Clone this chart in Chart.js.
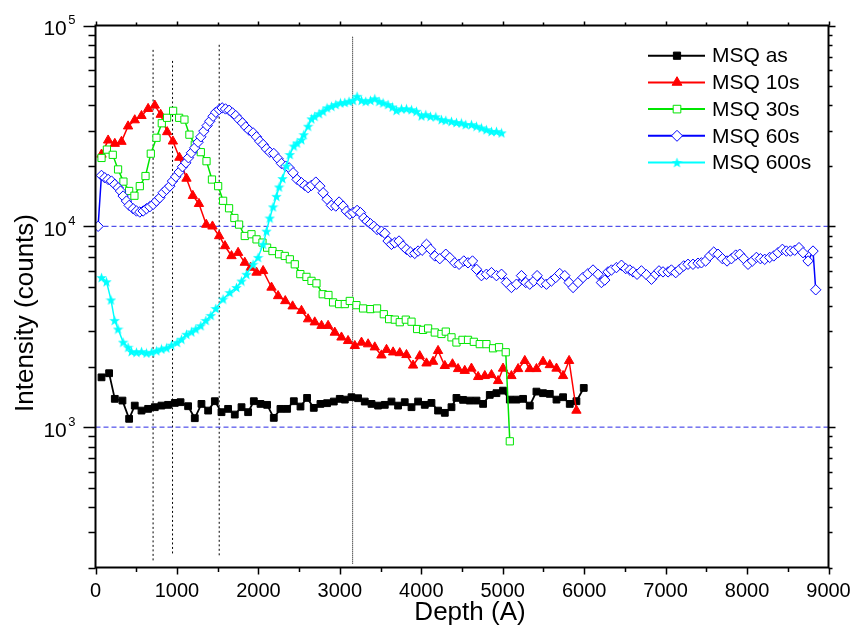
<!DOCTYPE html>
<html>
<head>
<meta charset="utf-8">
<title>MSQ depth profile</title>
<script src="https://cdn.jsdelivr.net/npm/chart.js@4.4.1/dist/chart.umd.min.js"></script>
<style>
    html, body { margin: 0; padding: 0; background: #fff; }
    #depthProfile { display: block; }
</style>
</head>
<body>
<canvas id="depthProfile" width="855" height="628"></canvas>
<script>
// Depth (A) and intensity (counts) for each anneal time
const asDepth = [74, 167, 237, 331, 413, 482, 565, 646, 728, 810, 891, 974, 1044, 1137, 1219, 1301, 1383, 1465, 1547, 1628,
    1710, 1793, 1874, 1944, 2026, 2107, 2189, 2271, 2353, 2435, 2517, 2598, 2680, 2762, 2843, 2926, 2999, 3061, 3143, 3224,
    3306, 3389, 3470, 3552, 3634, 3715, 3797, 3880, 3961, 4043, 4125, 4206, 4289, 4371, 4432, 4513, 4595, 4678, 4759, 4841,
    4923, 5004, 5087, 5169, 5250, 5332, 5414, 5495, 5578, 5660, 5741, 5823, 5905, 5995];
const asCounts = [1770, 1855, 1383, 1356, 1100, 1280, 1209, 1233, 1257, 1280, 1291, 1320, 1331, 1271, 1108, 1305, 1209, 1346, 1187, 1233,
    1155, 1257, 1187, 1346, 1305, 1291, 1112, 1233, 1233, 1346, 1266, 1398, 1247, 1305, 1316, 1341, 1383, 1371, 1409, 1393,
    1341, 1305, 1280, 1291, 1341, 1280, 1331, 1257, 1341, 1291, 1320, 1209, 1178, 1257, 1398, 1367, 1356, 1356, 1305, 1447,
    1476, 1520, 1371, 1371, 1383, 1280, 1503, 1476, 1464, 1371, 1409, 1305, 1346, 1567];

const s10Depth = [74, 155, 237, 319, 400, 482, 565, 646, 728, 800, 880, 950, 1030, 1117, 1195, 1270, 1360, 1436, 1518, 1590,
    1670, 1751, 1833, 1905, 1977, 2058, 2161, 2242, 2330, 2420, 2529, 2610, 2692, 2775, 2856, 2938, 3020, 3101, 3184, 3266,
    3347, 3429, 3511, 3573, 3654, 3736, 3818, 3899, 3981, 4064, 4145, 4206, 4289, 4383, 4452, 4534, 4616, 4698, 4780, 4862,
    4943, 5004, 5107, 5189, 5271, 5332, 5414, 5495, 5578, 5660, 5741, 5815, 5905];
const s10Counts = [22800, 26800, 25800, 26400, 31500, 33800, 35500, 38500, 40000, 36000, 29500, 26500, 22000, 17300, 14200, 12950, 10200, 10000, 8950, 7980,
    7120, 7390, 6600, 6230, 5890, 6000, 4960, 4500, 4250, 4000, 3800, 3450, 3330, 3200, 3200, 2960, 2800, 2690, 2540, 2640,
    2590, 2500, 2280, 2430, 2360, 2340, 2290, 2030, 2260, 2080, 2120, 2400, 2020, 2060, 1950, 1910, 1960, 1780, 1800, 1820,
    1700, 1960, 1800, 1950, 2140, 1950, 1950, 2120, 2040, 1960, 1800, 2140, 1210];

const s30Depth = [74, 140, 212, 277, 343, 413, 478, 544, 614, 679, 749, 814, 879, 953, 1027, 1092, 1153, 1219, 1293, 1363,
    1430, 1506, 1567, 1640, 1705, 1763, 1833, 1915, 1977, 2050, 2107, 2173, 2254, 2324, 2386, 2447, 2515, 2590, 2652, 2713,
    2790, 2860, 2917, 2991, 3061, 3122, 3204, 3285, 3376, 3457, 3540, 3605, 3675, 3736, 3810, 3880, 3949, 4022, 4084, 4166,
    4248, 4301, 4371, 4432, 4506, 4574, 4645, 4718, 4800, 4881, 4955, 5037, 5087];
const s30Counts = [21900, 24100, 22700, 19200, 16700, 15000, 14200, 15850, 17800, 23000, 27600, 32600, 34700, 37600, 34700, 34000, 28600, 25500, 23400, 21100,
    17100, 15850, 13400, 12300, 11000, 10200, 8950, 9130, 8610, 8300, 7830, 7530, 7260, 7120, 6850, 6470, 5780, 5600, 5350, 5200,
    4590, 4550, 4180, 4100, 4100, 4250, 4050, 3900, 3870, 3900, 3650, 3450, 3430, 3330, 3430, 3350, 3080, 3050, 3100, 2960,
    2910, 2990, 2800, 2640, 2720, 2720, 2660, 2590, 2590, 2470, 2500, 2360, 850];

const s60Depth = [32, 73, 114, 155, 196, 237, 278, 307, 339, 380, 413, 462, 503, 544, 585, 626, 667, 708, 748, 789,
    830, 871, 912, 945, 986, 1027, 1068, 1109, 1141, 1178, 1219, 1260, 1293, 1330, 1371, 1403, 1444, 1477, 1518, 1555,
    1596, 1641, 1682, 1722, 1763, 1804, 1845, 1886, 1935, 1976, 2017, 2058, 2099, 2140, 2189, 2242, 2283, 2336, 2377, 2426,
    2475, 2529, 2570, 2611, 2651, 2705, 2754, 2795, 2844, 2897, 2950, 2991, 3040, 3081, 3122, 3163, 3212, 3253, 3294, 3335,
    3376, 3417, 3457, 3511, 3552, 3592, 3634, 3675, 3727, 3776, 3818, 3867, 3920, 3961, 4010, 4064, 4113, 4166, 4227, 4301,
    4350, 4411, 4464, 4522, 4574, 4629, 4678, 4739, 4800, 4862, 4923, 4985, 5046, 5107, 5169, 5230, 5283, 5332, 5381, 5422,
    5476, 5537, 5598, 5651, 5700, 5762, 5815, 5864, 5925, 5986, 6045, 6109, 6170, 6212, 6253, 6293, 6335, 6396, 6458, 6510,
    6560, 6600, 6649, 6703, 6765, 6826, 6879, 6919, 6968, 7030, 7071, 7124, 7173, 7222, 7275, 7336, 7398, 7440, 7492, 7542,
    7591, 7644, 7698, 7754, 7808, 7861, 7910, 7959, 8012, 8066, 8115, 8164, 8217, 8278, 8328, 8380, 8434, 8483, 8532, 8585,
    8638, 8687, 8749, 8810, 8843];
const s60Counts = [10000, 17920, 17450, 17120, 16800, 16170, 15570, 14980, 14150, 13360, 12710, 12240, 11920, 11780, 11920, 12240, 12520, 12860, 13360, 13880,
    14690, 15260, 15850, 16800, 17650, 18620, 19790, 20720, 21940, 23230, 24590, 26240, 27900, 29760, 31740, 33360, 35330, 36980, 38130, 38860,
    38420, 37840, 36700, 35590, 33990, 32730, 31270, 30100, 29200, 27900, 26540, 25550, 24310, 23400, 23050, 21690, 20560, 19940, 19560, 18480,
    17120, 16480, 15990, 15570, 15990, 16600, 15850, 14690, 13620, 12710, 12620, 13210, 12600, 11900, 11500, 11700, 12000, 11700, 11000, 10600,
    10300, 10000, 9650, 9460, 9230, 8450, 8130, 8290, 8450, 7980, 7680, 7440, 7330, 7530, 7600, 8130, 7680, 7120, 6900, 7260,
    6980, 6580, 6470, 6720, 6580, 6720, 6110, 5680, 5770, 5880, 5680, 5770, 5250, 4960, 5150, 5680, 5250, 5150, 5340, 5680,
    5250, 5150, 5340, 5560, 5820, 5680, 5250, 4960, 5250, 5560, 5800, 6060, 5770, 5250, 5400, 5930, 6060, 6230, 6400, 6160,
    6060, 5930, 5770, 6000, 5740, 5450, 5770, 6000, 5930, 5930, 6060, 5880, 6110, 6350, 6470, 6470, 6550, 6580, 6720, 7120,
    7440, 7260, 6900, 6720, 6900, 7190, 7260, 6900, 6470, 6720, 7000, 6900, 6850, 7000, 7120, 7390, 7680, 7530, 7530, 7600,
    7830, 7390, 6720, 7530, 4830];

const s600Depth = [74, 135, 190, 235, 277, 339, 400, 442, 503, 565, 626, 688, 749, 810, 872, 933, 1002, 1056, 1117, 1179,
    1231, 1293, 1355, 1416, 1477, 1567, 1649, 1731, 1793, 1854, 1935, 1996, 2058, 2099, 2140, 2180, 2222, 2254, 2296, 2345,
    2386, 2435, 2475, 2529, 2557, 2610, 2652, 2692, 2745, 2794, 2843, 2898, 2950, 3008, 3061, 3113, 3163, 3212, 3266, 3318,
    3376, 3429, 3482, 3531, 3592, 3646, 3695, 3757, 3818, 3880, 3941, 4002, 4055, 4113, 4178, 4248, 4301, 4371, 4432, 4493,
    4546, 4616, 4678, 4739, 4800, 4862, 4923, 4985];
const s600Counts = [5560, 5300, 4300, 3400, 3080, 2650, 2500, 2380, 2360, 2380, 2340, 2360, 2400, 2450, 2480, 2560, 2640, 2740, 2900, 2980,
    3080, 3200, 3400, 3600, 3900, 4340, 4680, 4960, 5340, 5770, 6470, 7000, 8130, 9460, 11000, 12500, 14100, 15700, 17300, 20000,
    22800, 25100, 26000, 27000, 28600, 31500, 34300, 35300, 36400, 37400, 38900, 39600, 40400, 41200, 41400, 41900, 42400, 44400, 42400, 41900,
    42400, 43200, 41900, 41200, 40400, 39300, 37800, 38500, 38500, 38100, 37400, 35500, 36000, 35300, 35100, 34000, 33700, 33300, 32900, 32700,
    32100, 32100, 31500, 30900, 30300, 29700, 29700, 29200];

const seriesNames = ['MSQ as', 'MSQ 10s', 'MSQ 30s', 'MSQ 60s', 'MSQ 600s'];

// guide lines
const guideCounts = [10000, 1000];
const markerDepth = [707, 946, 1519, 3157];
const markerTop = [75700, 67600, 80200, 87900];
const markerBottom = [217, 235, 230, 209];

// axis ticks
const xTicks = [0, 1000, 2000, 3000, 4000, 5000, 6000, 7000, 8000, 9000];
const xTickLabels = ['0', '1000', '2000', '3000', '4000', '5000', '6000', '7000', '8000', '9000'];
const yDecades = [1000, 10000, 100000];
const yExponents = ['3', '4', '5'];

const FONT = '"Liberation Sans", Arial, Helvetica, sans-serif';

function starImage(size, color) {
    const c = document.createElement('canvas');
    c.width = size;
    c.height = size;
    const g = c.getContext('2d');
    const mid = size / 2;
    const outer = size / 2;
    const inner = outer * 0.42;
    g.beginPath();
    for (let i = 0; i < 10; i++) {
        const r = i % 2 ? inner : outer;
        const ang = -Math.PI / 2 + i * Math.PI / 5;
        g.lineTo(mid + r * Math.cos(ang), mid + 0.5 + r * Math.sin(ang));
    }
    g.closePath();
    g.fillStyle = color;
    g.fill();
    return c;
}

const toPoints = (xs, ys) => xs.map((x, i) => ({ x, y: ys[i] }));

const seriesStyle = [
    { depth: asDepth, counts: asCounts, color: '#000000', fill: '#000000', point: 'rect', radius: 4.8, width: 1.8, order: 5 },
    { depth: s10Depth, counts: s10Counts, color: '#ff0000', fill: '#ff0000', point: 'triangle', radius: 5.4, width: 1.5, order: 4 },
    { depth: s30Depth, counts: s30Counts, color: '#00e600', fill: '#ffffff', point: 'rect', radius: 5.1, width: 1.5, order: 3 },
    { depth: s60Depth, counts: s60Counts, color: '#0000ff', fill: '#ffffff', point: 'rectRot', radius: 5.2, width: 1.5, order: 2 },
    { depth: s600Depth, counts: s600Counts, color: '#00ffff', fill: '#00ffff', point: starImage(11, '#00ffff'), radius: 5, width: 1.5, order: 1 },
];

const datasets = seriesStyle.map((s, i) => ({
    label: seriesNames[i],
    data: toPoints(s.depth, s.counts),
    borderColor: s.color,
    borderWidth: s.width,
    backgroundColor: s.fill,
    pointStyle: s.point,
    pointRadius: s.radius,
    pointBackgroundColor: s.fill,
    pointBorderColor: s.color,
    pointBorderWidth: 1,
    tension: 0,
    order: s.order,
}));

guideCounts.forEach((c) => {
    datasets.push({
        label: 'guide',
        data: [{ x: 0, y: c }, { x: 9000, y: c }],
        borderColor: '#2a2ae6',
        borderWidth: 1,
        borderDash: [5, 3],
        pointRadius: 0,
        order: 10,
    });
});

markerDepth.forEach((d, i) => {
    datasets.push({
        label: 'guide',
        data: [{ x: d, y: markerBottom[i] }, { x: d, y: markerTop[i] }],
        borderColor: '#000000',
        borderWidth: 1,
        borderDash: i === 3 ? [1, 1] : [2, 2.5],
        pointRadius: 0,
        order: 10,
    });
});

// frame, mirrored ticks, tick labels, titles and legend
const profileDecor = {
    id: 'profileDecor',
    afterDatasetsDraw(chart) {
        const { ctx, chartArea: a, scales: { x, y } } = chart;
        ctx.save();
        ctx.strokeStyle = '#000';
        ctx.fillStyle = '#000';

        ctx.lineWidth = 1.5;
        ctx.beginPath();
        for (let v = 0; v <= 9000; v += 500) {
            const px = Math.round(x.getPixelForValue(v)) + 0.5;
            const major = v % 1000 === 0;
            ctx.moveTo(px, a.bottom);
            ctx.lineTo(px, a.bottom + (major ? 7 : 4.5));
            ctx.moveTo(px, a.top);
            ctx.lineTo(px, a.top - (major ? 4 : 3));
        }
        [100, 1000, 10000].forEach((dec) => {
            for (let m = 1; m <= 10; m++) {
                const v = m * dec;
                if (v < 200 || v > 100000) continue;
                const py = Math.round(y.getPixelForValue(v)) + 0.5;
                const major = yDecades.includes(v);
                ctx.moveTo(a.left, py);
                ctx.lineTo(a.left - (major ? 12 : 7), py);
                ctx.moveTo(a.right, py);
                ctx.lineTo(a.right + (major ? 7 : 4), py);
            }
        });
        ctx.stroke();

        ctx.lineWidth = 2;
        ctx.strokeRect(a.left, a.top, a.right - a.left, a.bottom - a.top);

        // x tick labels
        ctx.font = '20px ' + FONT;
        ctx.textAlign = 'center';
        ctx.textBaseline = 'alphabetic';
        xTicks.forEach((v, i) => {
            ctx.fillText(xTickLabels[i], x.getPixelForValue(v), a.bottom + 29.5);
        });

        // y tick labels as powers of ten
        ctx.textAlign = 'left';
        const baseFont = '21px ' + FONT;
        const supFont = '13px ' + FONT;
        yDecades.forEach((v, i) => {
            const py = y.getPixelForValue(v);
            ctx.font = supFont;
            const ws = ctx.measureText(yExponents[i]).width;
            ctx.font = baseFont;
            const wb = ctx.measureText('10').width;
            const right = a.left - 20;
            ctx.fillText('10', right - ws - 1.5 - wb, py + 9.5);
            ctx.font = supFont;
            ctx.fillText(yExponents[i], right - ws, py - 1.5);
        });

        // axis titles
        ctx.font = '26px ' + FONT;
        ctx.textAlign = 'center';
        ctx.fillText('Depth (A)', 470, 620);
        ctx.save();
        ctx.translate(33, 313);
        ctx.rotate(-Math.PI / 2);
        ctx.fillText('Intensity (counts)', 0, 0);
        ctx.restore();

        // legend
        ctx.font = '21px ' + FONT;
        ctx.textAlign = 'left';
        ctx.textBaseline = 'middle';
        seriesStyle.forEach((s, i) => {
            const ly = 55.7 + i * 26.7;
            ctx.strokeStyle = s.color;
            ctx.lineWidth = 2;
            ctx.beginPath();
            ctx.moveTo(648, ly);
            ctx.lineTo(705, ly);
            ctx.stroke();
            ctx.fillStyle = s.fill;
            ctx.lineWidth = 1;
            Chart.helpers.drawPoint(ctx, { pointStyle: s.point, radius: s.radius + 0.3, rotation: 0, borderWidth: 1 }, 677, ly);
            ctx.fillStyle = '#000';
            ctx.fillText(seriesNames[i], 712, ly + 1);
        });
        ctx.restore();
    },
};

new Chart(document.getElementById('depthProfile'), {
    type: 'line',
    data: { datasets },
    options: {
        responsive: false,
        animation: false,
        devicePixelRatio: 1,
        layout: { padding: { left: 95.5, right: 26.5, top: 25.5, bottom: 60.5 } },
        plugins: { legend: { display: false }, tooltip: { enabled: false } },
        scales: {
            x: { type: 'linear', min: 0, max: 9000, display: false },
            y: { type: 'logarithmic', min: 200, max: 100000, display: false },
        },
    },
    plugins: [profileDecor],
});
</script>
</body>
</html>
